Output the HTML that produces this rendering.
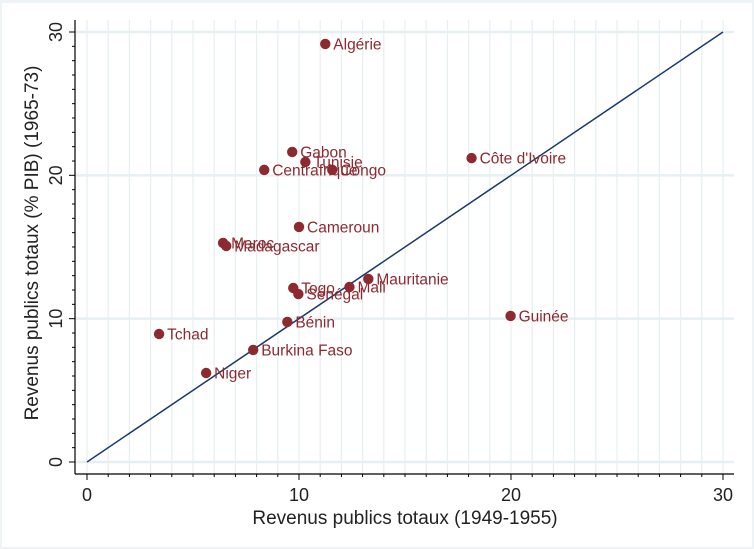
<!DOCTYPE html>
<html><head><meta charset="utf-8"><style>
html,body{margin:0;padding:0;background:#fff;}
svg{display:block;font-family:"Liberation Sans",sans-serif;}
</style></head><body>
<svg id="chart" width="754" height="549" viewBox="0 0 754 549" xmlns="http://www.w3.org/2000/svg">
<rect x="0" y="0" width="754" height="549" fill="#eef4f5"/>
<rect x="2" y="3" width="750" height="544" fill="#ffffff"/>
<g id="grid"></g>
<line x1="87" y1="462" x2="723" y2="32" stroke="#1a3a6b" stroke-width="1.5" id="diag"/>
<g id="axes"></g>
<g id="points"></g>
<text x="405" y="524" font-size="19" text-anchor="middle" fill="#222">Revenus publics totaux (1949-1955)</text>
<text transform="translate(38,243) rotate(-90)" font-size="19" text-anchor="middle" fill="#222">Revenus publics totaux (% PIB) (1965-73)</text>
</svg>
<script>
const countries=["Algérie","Gabon","Tunisie","Centrafrique","Congo","Côte d'Ivoire","Cameroun","Maroc","Madagascar","Mauritanie","Mali","Togo","Sénégal","Bénin","Guinée","Tchad","Burkina Faso","Niger"];
const xValues=[11.24,9.68,10.3,8.36,11.57,18.14,10.0,6.42,6.57,13.27,12.38,9.73,9.97,9.45,19.98,3.4,7.84,5.62];
const yValues=[29.17,21.63,20.93,20.38,20.38,21.2,16.4,15.28,15.07,12.77,12.21,12.14,11.72,9.77,10.19,8.93,7.82,6.21];
const xTicks=[0,10,20,30];
const yTicks=[0,10,20,30];
const NS="http://www.w3.org/2000/svg";
function sx(v){return 87+v*(723-87)/30;}
function sy(v){return 462-v*(462-32)/30;}
function mk(tag,attrs,parent){const e=document.createElementNS(NS,tag);for(const k in attrs)e.setAttribute(k,attrs[k]);parent.appendChild(e);return e;}
const grid=document.getElementById('grid'),axes=document.getElementById('axes'),pts=document.getElementById('points');
for(let i=0;i<=30;i++){
  const l=mk('line',{x1:sx(i),x2:sx(i),y1:20,y2:474,stroke:'#e6eff1','stroke-width':1.2},grid);
  
  
}
yTicks.forEach(t=>{
  const l=mk('line',{x1:75,x2:734,y1:sy(t),y2:sy(t),stroke:'#e6eff1','stroke-width':2.5},grid);
  
  
});
const xa=mk('line',{x1:75,x2:734,y1:474,y2:474,stroke:'#000','stroke-width':1.2},axes);


const ya=mk('line',{x1:75,x2:75,y1:20,y2:474,stroke:'#000','stroke-width':1.2},axes);


for(let i=0;i<=30;i++){
  const major=i%10===0;
  const a=mk('line',{x1:sx(i),x2:sx(i),y1:474,y2:474+(major?6:3),stroke:'#000','stroke-width':1},axes);
  
  
  const b=mk('line',{x1:75-(major?6:3),x2:75,y1:sy(i),y2:sy(i),stroke:'#000','stroke-width':1},axes);
  
  
}
xTicks.forEach(t=>{
  const e=mk('text',{x:sx(t),y:501,'font-size':18,'text-anchor':'middle',fill:'#222'},axes);
  e.textContent=t;
  
  
});
yTicks.forEach(t=>{
  const e=mk('text',{transform:`translate(62,${sy(t)}) rotate(-90)`,'font-size':18,'text-anchor':'middle',fill:'#222'},axes);
  e.textContent=t;
  
  
});
countries.forEach((c,i)=>{
  const g=mk('g',{},pts);
  
  
  const cx=sx(xValues[i]),cy=sy(yValues[i]);
  mk('circle',{cx:cx,cy:cy,r:5.2,fill:'#8c2a30'},g);
  const t=mk('text',{x:cx+8,y:cy+5.5,'font-size':15.5,fill:'#8c2a30'},g);
  t.textContent=c;
});
</script>
</body></html>
